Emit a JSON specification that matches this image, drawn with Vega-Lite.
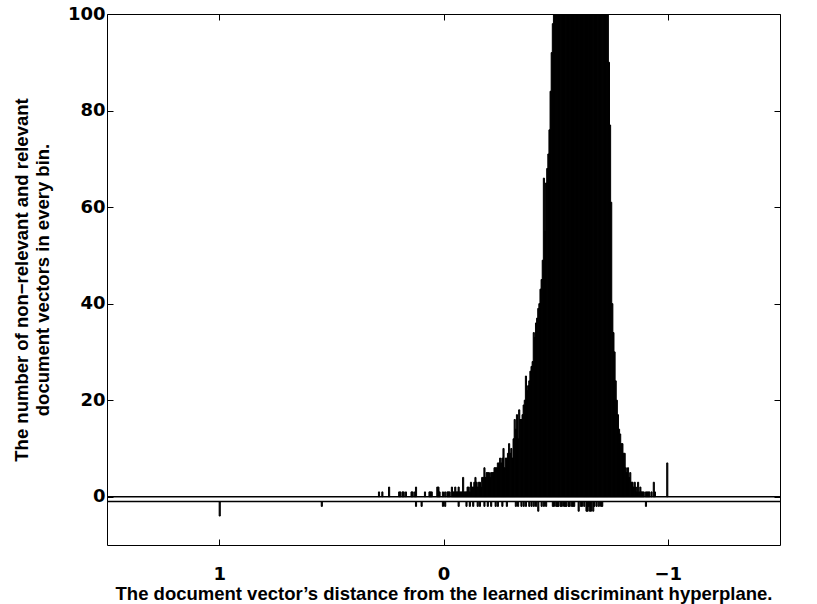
{
  "$schema": "https://vega.github.io/schema/vega-lite/v6.json",
  "width": 673,
  "height": 531,
  "autosize": "none",
  "padding": {"left": 107, "top": 14, "right": 37, "bottom": 59},
  "background": "white",
  "config": {
    "view": {"stroke": "black", "strokeWidth": 1},
    "axis": {
      "domain": false,
      "grid": false,
      "labelFont": "DejaVu Sans",
      "labelFontWeight": "bold",
      "labelFontSize": 18,
      "labelColor": "black",
      "titleFont": "Liberation Sans",
      "titleFontWeight": "bold",
      "titleFontSize": 18.5,
      "titleColor": "black",
      "tickColor": "black",
      "tickWidth": 1,
      "tickSize": -6
    }
  },
  "datasets": {
    "nonrel": [
      {"x": 0.2875, "n": 1}, {"x": 0.2725, "n": 1}, {"x": 0.2425, "n": 2}, {"x": 0.1975, "n": 1}, {"x": 0.1925, "n": 1},
      {"x": 0.1825, "n": 1}, {"x": 0.1775, "n": 1}, {"x": 0.1675, "n": 1}, {"x": 0.1425, "n": 1}, {"x": 0.1375, "n": 1},
      {"x": 0.1275, "n": 1}, {"x": 0.1225, "n": 2}, {"x": 0.0825, "n": 1}, {"x": 0.0625, "n": 1}, {"x": 0.0575, "n": 1},
      {"x": 0.0525, "n": 1}, {"x": 0.0275, "n": 2}, {"x": 0.0225, "n": 2}, {"x": 0.0175, "n": 1}, {"x": 0.0025, "n": 1},
      {"x": -0.0075, "n": 1}, {"x": -0.0175, "n": 1}, {"x": -0.0225, "n": 1}, {"x": -0.0275, "n": 1}, {"x": -0.0375, "n": 2},
      {"x": -0.0425, "n": 1}, {"x": -0.0475, "n": 1}, {"x": -0.0525, "n": 2}, {"x": -0.0575, "n": 1}, {"x": -0.0625, "n": 1},
      {"x": -0.0675, "n": 2}, {"x": -0.0725, "n": 1}, {"x": -0.0775, "n": 1}, {"x": -0.0825, "n": 1}, {"x": -0.0875, "n": 4},
      {"x": -0.0925, "n": 1}, {"x": -0.0975, "n": 1}, {"x": -0.1025, "n": 1}, {"x": -0.1075, "n": 2}, {"x": -0.1125, "n": 2},
      {"x": -0.1175, "n": 1}, {"x": -0.1225, "n": 3}, {"x": -0.1275, "n": 2}, {"x": -0.1325, "n": 2}, {"x": -0.1375, "n": 3},
      {"x": -0.1425, "n": 4}, {"x": -0.1475, "n": 3}, {"x": -0.1525, "n": 2}, {"x": -0.1575, "n": 3}, {"x": -0.1625, "n": 3},
      {"x": -0.1675, "n": 2}, {"x": -0.1725, "n": 4}, {"x": -0.1775, "n": 4}, {"x": -0.1825, "n": 6}, {"x": -0.1875, "n": 4},
      {"x": -0.1925, "n": 5}, {"x": -0.1975, "n": 5}, {"x": -0.2025, "n": 5}, {"x": -0.2075, "n": 4}, {"x": -0.2125, "n": 5},
      {"x": -0.2175, "n": 5}, {"x": -0.2225, "n": 5}, {"x": -0.2275, "n": 6}, {"x": -0.2325, "n": 6}, {"x": -0.2375, "n": 6},
      {"x": -0.2425, "n": 7}, {"x": -0.2475, "n": 7}, {"x": -0.2525, "n": 8}, {"x": -0.2575, "n": 7}, {"x": -0.2625, "n": 8},
      {"x": -0.2675, "n": 10}, {"x": -0.2725, "n": 6}, {"x": -0.2775, "n": 8}, {"x": -0.2825, "n": 8}, {"x": -0.2875, "n": 9},
      {"x": -0.2925, "n": 11}, {"x": -0.2975, "n": 9}, {"x": -0.3025, "n": 10}, {"x": -0.3075, "n": 8}, {"x": -0.3125, "n": 12},
      {"x": -0.3175, "n": 16}, {"x": -0.3225, "n": 14}, {"x": -0.3275, "n": 17}, {"x": -0.3325, "n": 12}, {"x": -0.3375, "n": 18},
      {"x": -0.3425, "n": 16}, {"x": -0.3475, "n": 16}, {"x": -0.3525, "n": 17}, {"x": -0.3575, "n": 19}, {"x": -0.3625, "n": 20},
      {"x": -0.3675, "n": 25}, {"x": -0.3725, "n": 22}, {"x": -0.3775, "n": 23}, {"x": -0.3825, "n": 24}, {"x": -0.3875, "n": 26},
      {"x": -0.3925, "n": 27}, {"x": -0.3975, "n": 28}, {"x": -0.4025, "n": 34}, {"x": -0.4075, "n": 33}, {"x": -0.4125, "n": 36},
      {"x": -0.4175, "n": 37}, {"x": -0.4225, "n": 39}, {"x": -0.4275, "n": 40}, {"x": -0.4325, "n": 43}, {"x": -0.4375, "n": 45},
      {"x": -0.4425, "n": 49}, {"x": -0.4475, "n": 66}, {"x": -0.4525, "n": 55}, {"x": -0.4575, "n": 65}, {"x": -0.4625, "n": 68},
      {"x": -0.4675, "n": 71}, {"x": -0.4725, "n": 76}, {"x": -0.4775, "n": 84}, {"x": -0.4825, "n": 92}, {"x": -0.4875, "n": 98},
      {"x": -0.4925, "n": 106}, {"x": -0.4975, "n": 115}, {"x": -0.5025, "n": 125}, {"x": -0.5075, "n": 135}, {"x": -0.5125, "n": 146},
      {"x": -0.5175, "n": 157}, {"x": -0.5225, "n": 168}, {"x": -0.5275, "n": 179}, {"x": -0.5325, "n": 190}, {"x": -0.5375, "n": 200},
      {"x": -0.5425, "n": 210}, {"x": -0.5475, "n": 219}, {"x": -0.5525, "n": 227}, {"x": -0.5575, "n": 234}, {"x": -0.5625, "n": 240},
      {"x": -0.5675, "n": 245}, {"x": -0.5725, "n": 249}, {"x": -0.5775, "n": 252}, {"x": -0.5825, "n": 255}, {"x": -0.5875, "n": 257},
      {"x": -0.5925, "n": 258}, {"x": -0.5975, "n": 259}, {"x": -0.6025, "n": 260}, {"x": -0.6075, "n": 260}, {"x": -0.6125, "n": 259},
      {"x": -0.6175, "n": 258}, {"x": -0.6225, "n": 256}, {"x": -0.6275, "n": 254}, {"x": -0.6325, "n": 251}, {"x": -0.6375, "n": 248},
      {"x": -0.6425, "n": 244}, {"x": -0.6475, "n": 240}, {"x": -0.6525, "n": 235}, {"x": -0.6575, "n": 229}, {"x": -0.6625, "n": 223},
      {"x": -0.6675, "n": 216}, {"x": -0.6725, "n": 208}, {"x": -0.6775, "n": 200}, {"x": -0.6825, "n": 191}, {"x": -0.6875, "n": 182},
      {"x": -0.6925, "n": 172}, {"x": -0.6975, "n": 162}, {"x": -0.7025, "n": 152}, {"x": -0.7075, "n": 142}, {"x": -0.7125, "n": 132},
      {"x": -0.7175, "n": 122}, {"x": -0.7225, "n": 113}, {"x": -0.7275, "n": 106}, {"x": -0.7325, "n": 101}, {"x": -0.7375, "n": 90},
      {"x": -0.7425, "n": 77}, {"x": -0.7475, "n": 61}, {"x": -0.7525, "n": 40}, {"x": -0.7575, "n": 34}, {"x": -0.7625, "n": 30},
      {"x": -0.7675, "n": 24}, {"x": -0.7725, "n": 20}, {"x": -0.7775, "n": 17}, {"x": -0.7825, "n": 14}, {"x": -0.7875, "n": 13},
      {"x": -0.7925, "n": 11}, {"x": -0.7975, "n": 11}, {"x": -0.8025, "n": 9}, {"x": -0.8075, "n": 9}, {"x": -0.8125, "n": 6},
      {"x": -0.8175, "n": 5}, {"x": -0.8225, "n": 6}, {"x": -0.8275, "n": 4}, {"x": -0.8325, "n": 5}, {"x": -0.8375, "n": 3},
      {"x": -0.8425, "n": 3}, {"x": -0.8475, "n": 2}, {"x": -0.8525, "n": 3}, {"x": -0.8575, "n": 2}, {"x": -0.8625, "n": 1},
      {"x": -0.8675, "n": 3}, {"x": -0.8725, "n": 1}, {"x": -0.8775, "n": 2}, {"x": -0.8825, "n": 1}, {"x": -0.8875, "n": 1},
      {"x": -0.8925, "n": 1}, {"x": -0.9025, "n": 1}, {"x": -0.9075, "n": 1}, {"x": -0.9125, "n": 1}, {"x": -0.9175, "n": 1},
      {"x": -0.9275, "n": 1}, {"x": -0.9375, "n": 3}, {"x": -0.9425, "n": 1}, {"x": -0.9975, "n": 7}
    ],
    "rel": [
      {"x": 0.9975, "n": 3}, {"x": 0.5425, "n": 1}, {"x": 0.1225, "n": 1}, {"x": 0.0975, "n": 1}, {"x": 0.0025, "n": 1},
      {"x": -0.0075, "n": 1}, {"x": -0.0675, "n": 1}, {"x": -0.1025, "n": 1}, {"x": -0.1175, "n": 1}, {"x": -0.1325, "n": 1},
      {"x": -0.1525, "n": 1}, {"x": -0.1625, "n": 1}, {"x": -0.1825, "n": 1}, {"x": -0.1975, "n": 1}, {"x": -0.2125, "n": 1},
      {"x": -0.2325, "n": 1}, {"x": -0.2425, "n": 1}, {"x": -0.2625, "n": 1}, {"x": -0.2825, "n": 1}, {"x": -0.3225, "n": 1},
      {"x": -0.3325, "n": 1}, {"x": -0.3475, "n": 1}, {"x": -0.3575, "n": 1}, {"x": -0.3675, "n": 1}, {"x": -0.3825, "n": 1},
      {"x": -0.3925, "n": 1}, {"x": -0.4025, "n": 1}, {"x": -0.4125, "n": 1}, {"x": -0.4225, "n": 2}, {"x": -0.4375, "n": 1},
      {"x": -0.4475, "n": 1}, {"x": -0.4575, "n": 1}, {"x": -0.4875, "n": 1}, {"x": -0.4925, "n": 1}, {"x": -0.5025, "n": 1},
      {"x": -0.5075, "n": 1}, {"x": -0.5125, "n": 1}, {"x": -0.5225, "n": 1}, {"x": -0.5275, "n": 1}, {"x": -0.5375, "n": 1},
      {"x": -0.5425, "n": 1}, {"x": -0.5475, "n": 1}, {"x": -0.5575, "n": 1}, {"x": -0.5625, "n": 1}, {"x": -0.5725, "n": 1},
      {"x": -0.5775, "n": 1}, {"x": -0.5825, "n": 1}, {"x": -0.6025, "n": 2}, {"x": -0.6125, "n": 1}, {"x": -0.6175, "n": 1},
      {"x": -0.6275, "n": 1}, {"x": -0.6375, "n": 2}, {"x": -0.6425, "n": 2}, {"x": -0.6475, "n": 1}, {"x": -0.6525, "n": 2},
      {"x": -0.6575, "n": 2}, {"x": -0.6675, "n": 2}, {"x": -0.6725, "n": 1}, {"x": -0.6825, "n": 1}, {"x": -0.6925, "n": 1},
      {"x": -0.7025, "n": 1}, {"x": -0.7075, "n": 1}, {"x": -0.9025, "n": 1}
    ]
  },
  "resolve": {"axis": {"x": "independent", "y": "independent"}},
  "layer": [
    {
      "data": {"name": "nonrel"},
      "transform": [{"bin": {"step": 0.005, "anchor": 0}, "field": "x", "as": ["x0", "x1"]}],
      "mark": {"type": "bar", "color": "black", "stroke": "black", "strokeWidth": 1, "clip": true},
      "encoding": {
        "x": {"field": "x0", "type": "quantitative",
              "scale": {"domain": [-1.5, 1.5], "reverse": true, "nice": false, "zero": false},
              "axis": {"orient": "bottom", "values": [1, 0, -1], "labelPadding": 26,
                       "title": "The document vector\u2019s distance from the learned discriminant hyperplane.", "titlePadding": 1}},
        "x2": {"field": "x1"},
        "y": {"field": "n", "type": "quantitative", "stack": null,
              "scale": {"domain": [-10, 100], "nice": false, "zero": false},
              "axis": {"orient": "left", "values": [0, 20, 40, 60, 80, 100], "labelPadding": 8,
                       "title": ["The number of non\u2212relevant and relevant", "document vectors in every bin."], "titlePadding": 15}},
        "y2": {"datum": 0}
      }
    },
    {
      "data": {"name": "rel"},
      "transform": [
        {"bin": {"step": 0.005, "anchor": 0}, "field": "x", "as": ["x0", "x1"]},
        {"calculate": "-1 - datum.n", "as": "bottom"}
      ],
      "mark": {"type": "bar", "color": "black", "stroke": "black", "strokeWidth": 1, "clip": true},
      "encoding": {
        "x": {"field": "x0", "type": "quantitative", "scale": {"domain": [-1.5, 1.5], "reverse": true, "nice": false, "zero": false}, "axis": null},
        "x2": {"field": "x1"},
        "y": {"field": "bottom", "type": "quantitative", "stack": null, "scale": {"domain": [-10, 100], "nice": false, "zero": false}, "axis": null},
        "y2": {"datum": -1}
      }
    },
    {
      "data": {"values": [{"v": 0}, {"v": -1}]},
      "mark": {"type": "rule", "color": "black", "strokeWidth": 1.5},
      "encoding": {
        "y": {"field": "v", "type": "quantitative", "scale": {"domain": [-10, 100], "nice": false, "zero": false}, "axis": null}
      }
    },
    {
      "data": {"name": "nonrel"},
      "mark": {"type": "point", "opacity": 0},
      "encoding": {
        "x": {"field": "x", "type": "quantitative", "scale": {"domain": [-1.5, 1.5], "reverse": true, "nice": false, "zero": false},
              "axis": {"orient": "top", "values": [1, 0, -1], "labels": false, "title": null}},
        "y": {"field": "n", "type": "quantitative", "scale": {"domain": [-10, 100], "nice": false, "zero": false},
              "axis": {"orient": "right", "values": [0, 20, 40, 60, 80, 100], "labels": false, "title": null}}
      }
    }
  ]
}
